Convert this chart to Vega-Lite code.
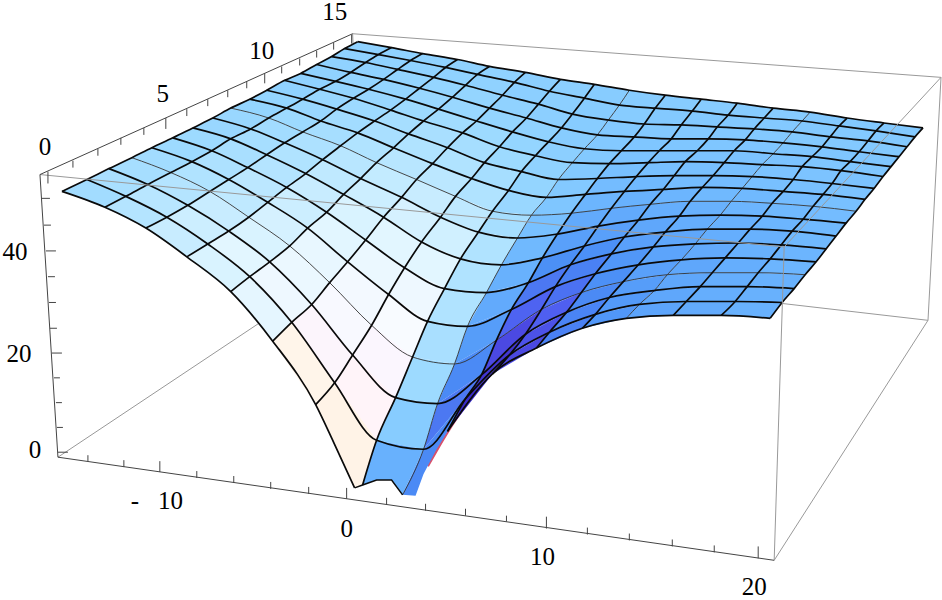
{"$schema":"https://vega.github.io/schema/vega-lite/v6.json","width":942,"height":600,"padding":0,"autosize":{"type":"fit","contains":"padding"},"background":"white","view":{"stroke":null},
"config":{"axis":{"domain":false}},
"datasets":{
"grid":[
{"g":0,"i":0,"j":0,"x":62,"y":191},{"g":1,"i":1,"j":0,"x":105,"y":207},{"g":2,"i":2,"j":0,"x":146,"y":228},{"g":3,"i":3,"j":0,"x":187,"y":257},{"g":4,"i":4,"j":0,"x":231,"y":292},{"g":5,"i":5,"j":0,"x":273,"y":342},{"g":6,"i":6,"j":0,"x":316,"y":406},{"g":7,"i":7,"j":0,"x":363,"y":487},{"g":8,"i":8,"j":0,"x":403,"y":497},{"g":9,"i":9,"j":0,"x":448,"y":433},{"g":10,"i":10,"j":0,"x":493,"y":375},{"g":11,"i":11,"j":0,"x":537,"y":349},{"g":12,"i":12,"j":0,"x":583,"y":329},{"g":13,"i":13,"j":0,"x":627,"y":319},{"g":14,"i":14,"j":0,"x":674,"y":316},{"g":15,"i":15,"j":0,"x":722,"y":316},{"g":16,"i":16,"j":0,"x":771,"y":319},
{"g":17,"i":0,"j":1,"x":87,"y":179},{"g":18,"i":1,"j":1,"x":126,"y":196},{"g":19,"i":2,"j":1,"x":167,"y":217},{"g":20,"i":3,"j":1,"x":208,"y":244},{"g":21,"i":4,"j":1,"x":250,"y":277},{"g":22,"i":5,"j":1,"x":292,"y":323},{"g":23,"i":6,"j":1,"x":335,"y":384},{"g":24,"i":7,"j":1,"x":377,"y":442},{"g":25,"i":8,"j":1,"x":424,"y":451},{"g":26,"i":9,"j":1,"x":466,"y":400},{"g":27,"i":10,"j":1,"x":510,"y":356},{"g":28,"i":11,"j":1,"x":550,"y":333},{"g":29,"i":12,"j":1,"x":596,"y":315},{"g":30,"i":13,"j":1,"x":640,"y":305},{"g":31,"i":14,"j":1,"x":687,"y":302},{"g":32,"i":15,"j":1,"x":736,"y":302},{"g":33,"i":16,"j":1,"x":783,"y":303},
{"g":34,"i":0,"j":2,"x":109,"y":168},{"g":35,"i":1,"j":2,"x":148,"y":184},{"g":36,"i":2,"j":2,"x":188,"y":205},{"g":37,"i":3,"j":2,"x":229,"y":231},{"g":38,"i":4,"j":2,"x":270,"y":262},{"g":39,"i":5,"j":2,"x":312,"y":305},{"g":40,"i":6,"j":2,"x":353,"y":356},{"g":41,"i":7,"j":2,"x":396,"y":399},{"g":42,"i":8,"j":2,"x":438,"y":405},{"g":43,"i":9,"j":2,"x":482,"y":376},{"g":44,"i":10,"j":2,"x":526,"y":335},{"g":45,"i":11,"j":2,"x":567,"y":313},{"g":46,"i":12,"j":2,"x":610,"y":298},{"g":47,"i":13,"j":2,"x":655,"y":291},{"g":48,"i":14,"j":2,"x":701,"y":287},{"g":49,"i":15,"j":2,"x":748,"y":287},{"g":50,"i":16,"j":2,"x":795,"y":289},
{"g":51,"i":0,"j":3,"x":132,"y":157},{"g":52,"i":1,"j":3,"x":171,"y":172},{"g":53,"i":2,"j":3,"x":210,"y":191},{"g":54,"i":3,"j":3,"x":249,"y":217},{"g":55,"i":4,"j":3,"x":290,"y":246},{"g":56,"i":5,"j":3,"x":330,"y":283},{"g":57,"i":6,"j":3,"x":372,"y":326},{"g":58,"i":7,"j":3,"x":413,"y":358},{"g":59,"i":8,"j":3,"x":455,"y":365},{"g":60,"i":9,"j":3,"x":497,"y":341},{"g":61,"i":10,"j":3,"x":542,"y":310},{"g":62,"i":11,"j":3,"x":582,"y":293},{"g":63,"i":12,"j":3,"x":624,"y":282},{"g":64,"i":13,"j":3,"x":668,"y":275},{"g":65,"i":14,"j":3,"x":713,"y":273},{"g":66,"i":15,"j":3,"x":759,"y":273},{"g":67,"i":16,"j":3,"x":806,"y":275},
{"g":68,"i":0,"j":4,"x":152,"y":147},{"g":69,"i":1,"j":4,"x":192,"y":161},{"g":70,"i":2,"j":4,"x":229,"y":179},{"g":71,"i":3,"j":4,"x":268,"y":202},{"g":72,"i":4,"j":4,"x":308,"y":228},{"g":73,"i":5,"j":4,"x":348,"y":262},{"g":74,"i":6,"j":4,"x":389,"y":295},{"g":75,"i":7,"j":4,"x":428,"y":322},{"g":76,"i":8,"j":4,"x":468,"y":327},{"g":77,"i":9,"j":4,"x":512,"y":310},{"g":78,"i":10,"j":4,"x":556,"y":287},{"g":79,"i":11,"j":4,"x":596,"y":274},{"g":80,"i":12,"j":4,"x":639,"y":265},{"g":81,"i":13,"j":4,"x":682,"y":260},{"g":82,"i":14,"j":4,"x":726,"y":258},{"g":83,"i":15,"j":4,"x":771,"y":259},{"g":84,"i":16,"j":4,"x":817,"y":262},
{"g":85,"i":0,"j":5,"x":173,"y":137},{"g":86,"i":1,"j":5,"x":212,"y":150},{"g":87,"i":2,"j":5,"x":248,"y":167},{"g":88,"i":3,"j":5,"x":287,"y":187},{"g":89,"i":4,"j":5,"x":327,"y":212},{"g":90,"i":5,"j":5,"x":366,"y":240},{"g":91,"i":6,"j":5,"x":405,"y":268},{"g":92,"i":7,"j":5,"x":445,"y":289},{"g":93,"i":8,"j":5,"x":487,"y":293},{"g":94,"i":9,"j":5,"x":529,"y":283},{"g":95,"i":10,"j":5,"x":571,"y":265},{"g":96,"i":11,"j":5,"x":612,"y":254},{"g":97,"i":12,"j":5,"x":654,"y":247},{"g":98,"i":13,"j":5,"x":696,"y":244},{"g":99,"i":14,"j":5,"x":739,"y":243},{"g":100,"i":15,"j":5,"x":782,"y":245},{"g":101,"i":16,"j":5,"x":827,"y":249},
{"g":102,"i":0,"j":6,"x":193,"y":127},{"g":103,"i":1,"j":6,"x":231,"y":138},{"g":104,"i":2,"j":6,"x":267,"y":154},{"g":105,"i":3,"j":6,"x":306,"y":173},{"g":106,"i":4,"j":6,"x":344,"y":194},{"g":107,"i":5,"j":6,"x":384,"y":217},{"g":108,"i":6,"j":6,"x":422,"y":242},{"g":109,"i":7,"j":6,"x":461,"y":259},{"g":110,"i":8,"j":6,"x":502,"y":265},{"g":111,"i":9,"j":6,"x":543,"y":258},{"g":112,"i":10,"j":6,"x":585,"y":246},{"g":113,"i":11,"j":6,"x":625,"y":237},{"g":114,"i":12,"j":6,"x":666,"y":232},{"g":115,"i":13,"j":6,"x":708,"y":229},{"g":116,"i":14,"j":6,"x":751,"y":229},{"g":117,"i":15,"j":6,"x":793,"y":231},{"g":118,"i":16,"j":6,"x":837,"y":236},
{"g":119,"i":0,"j":7,"x":213,"y":117},{"g":120,"i":1,"j":7,"x":251,"y":128},{"g":121,"i":2,"j":7,"x":285,"y":142},{"g":122,"i":3,"j":7,"x":323,"y":159},{"g":123,"i":4,"j":7,"x":361,"y":178},{"g":124,"i":5,"j":7,"x":402,"y":197},{"g":125,"i":6,"j":7,"x":441,"y":217},{"g":126,"i":7,"j":7,"x":479,"y":232},{"g":127,"i":8,"j":7,"x":518,"y":238},{"g":128,"i":9,"j":7,"x":558,"y":234},{"g":129,"i":10,"j":7,"x":599,"y":226},{"g":130,"i":11,"j":7,"x":639,"y":220},{"g":131,"i":12,"j":7,"x":680,"y":216},{"g":132,"i":13,"j":7,"x":721,"y":215},{"g":133,"i":14,"j":7,"x":763,"y":216},{"g":134,"i":15,"j":7,"x":804,"y":219},{"g":135,"i":16,"j":7,"x":847,"y":223},
{"g":136,"i":0,"j":8,"x":231,"y":107},{"g":137,"i":1,"j":8,"x":269,"y":117},{"g":138,"i":2,"j":8,"x":303,"y":131},{"g":139,"i":3,"j":8,"x":341,"y":145},{"g":140,"i":4,"j":8,"x":377,"y":162},{"g":141,"i":5,"j":8,"x":417,"y":179},{"g":142,"i":6,"j":8,"x":456,"y":196},{"g":143,"i":7,"j":8,"x":493,"y":211},{"g":144,"i":8,"j":8,"x":532,"y":215},{"g":145,"i":9,"j":8,"x":572,"y":213},{"g":146,"i":10,"j":8,"x":612,"y":208},{"g":147,"i":11,"j":8,"x":651,"y":204},{"g":148,"i":12,"j":8,"x":691,"y":201},{"g":149,"i":13,"j":8,"x":732,"y":201},{"g":150,"i":14,"j":8,"x":773,"y":203},{"g":151,"i":15,"j":8,"x":814,"y":206},{"g":152,"i":16,"j":8,"x":857,"y":211},
{"g":153,"i":0,"j":9,"x":250,"y":98},{"g":154,"i":1,"j":9,"x":287,"y":107},{"g":155,"i":2,"j":9,"x":321,"y":120},{"g":156,"i":3,"j":9,"x":358,"y":132},{"g":157,"i":4,"j":9,"x":394,"y":147},{"g":158,"i":5,"j":9,"x":433,"y":163},{"g":159,"i":6,"j":9,"x":472,"y":178},{"g":160,"i":7,"j":9,"x":509,"y":190},{"g":161,"i":8,"j":9,"x":547,"y":197},{"g":162,"i":9,"j":9,"x":586,"y":194},{"g":163,"i":10,"j":9,"x":625,"y":191},{"g":164,"i":11,"j":9,"x":664,"y":189},{"g":165,"i":12,"j":9,"x":703,"y":187},{"g":166,"i":13,"j":9,"x":743,"y":188},{"g":167,"i":14,"j":9,"x":784,"y":191},{"g":168,"i":15,"j":9,"x":824,"y":194},{"g":169,"i":16,"j":9,"x":866,"y":199},
{"g":170,"i":0,"j":10,"x":267,"y":89},{"g":171,"i":1,"j":10,"x":303,"y":98},{"g":172,"i":2,"j":10,"x":337,"y":108},{"g":173,"i":3,"j":10,"x":375,"y":120},{"g":174,"i":4,"j":10,"x":409,"y":133},{"g":175,"i":5,"j":10,"x":448,"y":147},{"g":176,"i":6,"j":10,"x":485,"y":162},{"g":177,"i":7,"j":10,"x":522,"y":171},{"g":178,"i":8,"j":10,"x":559,"y":179},{"g":179,"i":9,"j":10,"x":598,"y":178},{"g":180,"i":10,"j":10,"x":637,"y":176},{"g":181,"i":11,"j":10,"x":675,"y":175},{"g":182,"i":12,"j":10,"x":714,"y":175},{"g":183,"i":13,"j":10,"x":753,"y":176},{"g":184,"i":14,"j":10,"x":794,"y":179},{"g":185,"i":15,"j":10,"x":833,"y":183},{"g":186,"i":16,"j":10,"x":875,"y":188},
{"g":187,"i":0,"j":11,"x":285,"y":79},{"g":188,"i":1,"j":11,"x":320,"y":88},{"g":189,"i":2,"j":11,"x":354,"y":97},{"g":190,"i":3,"j":11,"x":391,"y":109},{"g":191,"i":4,"j":11,"x":424,"y":120},{"g":192,"i":5,"j":11,"x":463,"y":132},{"g":193,"i":6,"j":11,"x":500,"y":146},{"g":194,"i":7,"j":11,"x":536,"y":155},{"g":195,"i":8,"j":11,"x":573,"y":162},{"g":196,"i":9,"j":11,"x":610,"y":163},{"g":197,"i":10,"j":11,"x":649,"y":162},{"g":198,"i":11,"j":11,"x":686,"y":161},{"g":199,"i":12,"j":11,"x":725,"y":162},{"g":200,"i":13,"j":11,"x":763,"y":164},{"g":201,"i":14,"j":11,"x":803,"y":166},{"g":202,"i":15,"j":11,"x":842,"y":170},{"g":203,"i":16,"j":11,"x":884,"y":176},
{"g":204,"i":0,"j":12,"x":301,"y":72},{"g":205,"i":1,"j":12,"x":336,"y":80},{"g":206,"i":2,"j":12,"x":369,"y":88},{"g":207,"i":3,"j":12,"x":406,"y":98},{"g":208,"i":4,"j":12,"x":439,"y":108},{"g":209,"i":5,"j":12,"x":477,"y":120},{"g":210,"i":6,"j":12,"x":513,"y":131},{"g":211,"i":7,"j":12,"x":549,"y":141},{"g":212,"i":8,"j":12,"x":585,"y":148},{"g":213,"i":9,"j":12,"x":622,"y":150},{"g":214,"i":10,"j":12,"x":660,"y":150},{"g":215,"i":11,"j":12,"x":698,"y":150},{"g":216,"i":12,"j":12,"x":735,"y":150},{"g":217,"i":13,"j":12,"x":774,"y":153},{"g":218,"i":14,"j":12,"x":813,"y":156},{"g":219,"i":15,"j":12,"x":851,"y":161},{"g":220,"i":16,"j":12,"x":892,"y":166},
{"g":221,"i":0,"j":13,"x":317,"y":63},{"g":222,"i":1,"j":13,"x":351,"y":71},{"g":223,"i":2,"j":13,"x":384,"y":78},{"g":224,"i":3,"j":13,"x":420,"y":87},{"g":225,"i":4,"j":13,"x":453,"y":96},{"g":226,"i":5,"j":13,"x":490,"y":107},{"g":227,"i":6,"j":13,"x":527,"y":117},{"g":228,"i":7,"j":13,"x":562,"y":127},{"g":229,"i":8,"j":13,"x":598,"y":134},{"g":230,"i":9,"j":13,"x":635,"y":136},{"g":231,"i":10,"j":13,"x":672,"y":138},{"g":232,"i":11,"j":13,"x":709,"y":138},{"g":233,"i":12,"j":13,"x":746,"y":139},{"g":234,"i":13,"j":13,"x":784,"y":142},{"g":235,"i":14,"j":13,"x":823,"y":146},{"g":236,"i":15,"j":13,"x":860,"y":151},{"g":237,"i":16,"j":13,"x":900,"y":156},
{"g":238,"i":0,"j":14,"x":332,"y":55},{"g":239,"i":1,"j":14,"x":366,"y":61},{"g":240,"i":2,"j":14,"x":398,"y":68},{"g":241,"i":3,"j":14,"x":434,"y":76},{"g":242,"i":4,"j":14,"x":466,"y":84},{"g":243,"i":5,"j":14,"x":503,"y":94},{"g":244,"i":6,"j":14,"x":539,"y":103},{"g":245,"i":7,"j":14,"x":573,"y":113},{"g":246,"i":8,"j":14,"x":609,"y":119},{"g":247,"i":9,"j":14,"x":645,"y":123},{"g":248,"i":10,"j":14,"x":682,"y":124},{"g":249,"i":11,"j":14,"x":718,"y":126},{"g":250,"i":12,"j":14,"x":755,"y":128},{"g":251,"i":13,"j":14,"x":793,"y":131},{"g":252,"i":14,"j":14,"x":831,"y":136},{"g":253,"i":15,"j":14,"x":869,"y":140},{"g":254,"i":16,"j":14,"x":908,"y":146},
{"g":255,"i":0,"j":15,"x":345,"y":47},{"g":256,"i":1,"j":15,"x":379,"y":53},{"g":257,"i":2,"j":15,"x":411,"y":59},{"g":258,"i":3,"j":15,"x":446,"y":66},{"g":259,"i":4,"j":15,"x":478,"y":73},{"g":260,"i":5,"j":15,"x":515,"y":81},{"g":261,"i":6,"j":15,"x":550,"y":90},{"g":262,"i":7,"j":15,"x":585,"y":97},{"g":263,"i":8,"j":15,"x":620,"y":104},{"g":264,"i":9,"j":15,"x":656,"y":107},{"g":265,"i":10,"j":15,"x":693,"y":110},{"g":266,"i":11,"j":15,"x":729,"y":114},{"g":267,"i":12,"j":15,"x":765,"y":117},{"g":268,"i":13,"j":15,"x":803,"y":120},{"g":269,"i":14,"j":15,"x":840,"y":125},{"g":270,"i":15,"j":15,"x":877,"y":130},{"g":271,"i":16,"j":15,"x":916,"y":136},
{"g":272,"i":0,"j":16,"x":358,"y":40},{"g":273,"i":1,"j":16,"x":392,"y":46},{"g":274,"i":2,"j":16,"x":423,"y":52},{"g":275,"i":3,"j":16,"x":458,"y":58},{"g":276,"i":4,"j":16,"x":490,"y":65},{"g":277,"i":5,"j":16,"x":526,"y":71},{"g":278,"i":6,"j":16,"x":561,"y":78},{"g":279,"i":7,"j":16,"x":595,"y":83},{"g":280,"i":8,"j":16,"x":630,"y":89},{"g":281,"i":9,"j":16,"x":666,"y":94},{"g":282,"i":10,"j":16,"x":702,"y":98},{"g":283,"i":11,"j":16,"x":738,"y":102},{"g":284,"i":12,"j":16,"x":774,"y":107},{"g":285,"i":13,"j":16,"x":811,"y":111},{"g":286,"i":14,"j":16,"x":848,"y":117},{"g":287,"i":15,"j":16,"x":885,"y":122},{"g":288,"i":16,"j":16,"x":924,"y":127},
{"g":289,"i":-1,"j":-1,"x":355,"y":490},{"g":290,"i":-1,"j":-1,"x":377,"y":482},{"g":291,"i":-1,"j":-1,"x":392,"y":482},{"g":292,"i":-1,"j":-1,"x":416,"y":498},{"g":293,"i":-1,"j":-1,"x":424,"y":476},{"g":294,"i":-1,"j":-1,"x":436,"y":453},{"g":295,"i":-1,"j":-1,"x":334,"y":444}],
"patches":[
{"p":255,"v":50,"g":[255,256,273,272]},{"p":256,"v":50,"g":[256,257,274,273]},{"p":257,"v":50,"g":[257,258,275,274]},{"p":258,"v":50,"g":[258,259,276,275]},{"p":259,"v":50,"g":[259,260,277,276]},{"p":260,"v":51,"g":[260,261,278,277]},{"p":261,"v":51,"g":[261,262,279,278]},{"p":262,"v":52,"g":[262,263,280,279]},{"p":263,"v":52,"g":[263,264,281,280]},{"p":264,"v":52,"g":[264,265,282,281]},{"p":265,"v":52,"g":[265,266,283,282]},{"p":266,"v":52,"g":[266,267,284,283]},{"p":267,"v":52,"g":[267,268,285,284]},{"p":268,"v":53,"g":[268,269,286,285]},{"p":269,"v":53,"g":[269,270,287,286]},{"p":270,"v":53,"g":[270,271,288,287]},
{"p":238,"v":50,"g":[238,239,256,255]},{"p":239,"v":50,"g":[239,240,257,256]},{"p":240,"v":50,"g":[240,241,258,257]},{"p":241,"v":50,"g":[241,242,259,258]},{"p":242,"v":50,"g":[242,243,260,259]},{"p":243,"v":51,"g":[243,244,261,260]},{"p":244,"v":51,"g":[244,245,262,261]},{"p":245,"v":52,"g":[245,246,263,262]},{"p":246,"v":52,"g":[246,247,264,263]},{"p":247,"v":53,"g":[247,248,265,264]},{"p":248,"v":53,"g":[248,249,266,265]},{"p":249,"v":53,"g":[249,250,267,266]},{"p":250,"v":53,"g":[250,251,268,267]},{"p":251,"v":53,"g":[251,252,269,268]},{"p":252,"v":53,"g":[252,253,270,269]},{"p":253,"v":53,"g":[253,254,271,270]},
{"p":221,"v":50,"g":[221,222,239,238]},{"p":222,"v":50,"g":[222,223,240,239]},{"p":223,"v":49,"g":[223,224,241,240]},{"p":224,"v":49,"g":[224,225,242,241]},{"p":225,"v":49,"g":[225,226,243,242]},{"p":226,"v":50,"g":[226,227,244,243]},{"p":227,"v":51,"g":[227,228,245,244]},{"p":228,"v":52,"g":[228,229,246,245]},{"p":229,"v":53,"g":[229,230,247,246]},{"p":230,"v":53,"g":[230,231,248,247]},{"p":231,"v":53,"g":[231,232,249,248]},{"p":232,"v":53,"g":[232,233,250,249]},{"p":233,"v":53,"g":[233,234,251,250]},{"p":234,"v":53,"g":[234,235,252,251]},{"p":235,"v":53,"g":[235,236,253,252]},{"p":236,"v":53,"g":[236,237,254,253]},
{"p":204,"v":50,"g":[204,205,222,221]},{"p":205,"v":49,"g":[205,206,223,222]},{"p":206,"v":49,"g":[206,207,224,223]},{"p":207,"v":48,"g":[207,208,225,224]},{"p":208,"v":48,"g":[208,209,226,225]},{"p":209,"v":49,"g":[209,210,227,226]},{"p":210,"v":50,"g":[210,211,228,227]},{"p":211,"v":52,"g":[211,212,229,228]},{"p":212,"v":53,"g":[212,213,230,229]},{"p":213,"v":54,"g":[213,214,231,230]},{"p":214,"v":54,"g":[214,215,232,231]},{"p":215,"v":54,"g":[215,216,233,232]},{"p":216,"v":54,"g":[216,217,234,233]},{"p":217,"v":54,"g":[217,218,235,234]},{"p":218,"v":54,"g":[218,219,236,235]},{"p":219,"v":54,"g":[219,220,237,236]},
{"p":187,"v":50,"g":[187,188,205,204]},{"p":188,"v":49,"g":[188,189,206,205]},{"p":189,"v":48,"g":[189,190,207,206]},{"p":190,"v":47,"g":[190,191,208,207]},{"p":191,"v":46,"g":[191,192,209,208]},{"p":192,"v":47,"g":[192,193,210,209]},{"p":193,"v":49,"g":[193,194,211,210]},{"p":194,"v":51,"g":[194,195,212,211]},{"p":195,"v":53,"g":[195,196,213,212]},{"p":196,"v":55,"g":[196,197,214,213]},{"p":197,"v":55,"g":[197,198,215,214]},{"p":198,"v":55,"g":[198,199,216,215]},{"p":199,"v":55,"g":[199,200,217,216]},{"p":200,"v":55,"g":[200,201,218,217]},{"p":201,"v":54,"g":[201,202,219,218]},{"p":202,"v":54,"g":[202,203,220,219]},
{"p":170,"v":50,"g":[170,171,188,187]},{"p":171,"v":48,"g":[171,172,189,188]},{"p":172,"v":47,"g":[172,173,190,189]},{"p":173,"v":45,"g":[173,174,191,190]},{"p":174,"v":44,"g":[174,175,192,191]},{"p":175,"v":45,"g":[175,176,193,192]},{"p":176,"v":47,"g":[176,177,194,193]},{"p":177,"v":50,"g":[177,178,195,194]},{"p":178,"v":53,"g":[178,179,196,195]},{"p":179,"v":56,"g":[179,180,197,196]},{"p":180,"v":56,"g":[180,181,198,197]},{"p":181,"v":56,"g":[181,182,199,198]},{"p":182,"v":56,"g":[182,183,200,199]},{"p":183,"v":55,"g":[183,184,201,200]},{"p":184,"v":55,"g":[184,185,202,201]},{"p":185,"v":55,"g":[185,186,203,202]},
{"p":153,"v":49,"g":[153,154,171,170]},{"p":154,"v":48,"g":[154,155,172,171]},{"p":155,"v":46,"g":[155,156,173,172]},{"p":156,"v":44,"g":[156,157,174,173]},{"p":157,"v":42,"g":[157,158,175,174]},{"p":158,"v":42,"g":[158,159,176,175]},{"p":159,"v":45,"g":[159,160,177,176]},{"p":160,"v":49,"g":[160,161,178,177]},{"p":161,"v":53,"g":[161,162,179,178]},{"p":162,"v":57,"g":[162,163,180,179]},{"p":163,"v":58,"g":[163,164,181,180]},{"p":164,"v":57,"g":[164,165,182,181]},{"p":165,"v":57,"g":[165,166,183,182]},{"p":166,"v":56,"g":[166,167,184,183]},{"p":167,"v":56,"g":[167,168,185,184]},{"p":168,"v":55,"g":[168,169,186,185]},
{"p":136,"v":49,"g":[136,137,154,153]},{"p":137,"v":47,"g":[137,138,155,154]},{"p":138,"v":45,"g":[138,139,156,155]},{"p":139,"v":42,"g":[139,140,157,156]},{"p":140,"v":40,"g":[140,141,158,157]},{"p":141,"v":39,"g":[141,142,159,158]},{"p":142,"v":42,"g":[142,143,160,159]},{"p":143,"v":48,"g":[143,144,161,160]},{"p":144,"v":54,"g":[144,145,162,161]},{"p":145,"v":59,"g":[145,146,163,162]},{"p":146,"v":60,"g":[146,147,164,163]},{"p":147,"v":59,"g":[147,148,165,164]},{"p":148,"v":58,"g":[148,149,166,165]},{"p":149,"v":58,"g":[149,150,167,166]},{"p":150,"v":57,"g":[150,151,168,167]},{"p":151,"v":56,"g":[151,152,169,168]},
{"p":119,"v":48,"g":[119,120,137,136]},{"p":120,"v":46,"g":[120,121,138,137]},{"p":121,"v":43,"g":[121,122,139,138]},{"p":122,"v":40,"g":[122,123,140,139]},{"p":123,"v":37,"g":[123,124,141,140]},{"p":124,"v":36,"g":[124,125,142,141]},{"p":125,"v":38,"g":[125,126,143,142]},{"p":126,"v":45,"g":[126,127,144,143]},{"p":127,"v":56,"g":[127,128,145,144]},{"p":128,"v":62,"g":[128,129,146,145]},{"p":129,"v":62,"g":[129,130,147,146]},{"p":130,"v":61,"g":[130,131,148,147]},{"p":131,"v":60,"g":[131,132,149,148]},{"p":132,"v":59,"g":[132,133,150,149]},{"p":133,"v":58,"g":[133,134,151,150]},{"p":134,"v":57,"g":[134,135,152,151]},
{"p":102,"v":48,"g":[102,103,120,119]},{"p":103,"v":45,"g":[103,104,121,120]},{"p":104,"v":42,"g":[104,105,122,121]},{"p":105,"v":38,"g":[105,106,123,122]},{"p":106,"v":35,"g":[106,107,124,123]},{"p":107,"v":33,"g":[107,108,125,124]},{"p":108,"v":34,"g":[108,109,126,125]},{"p":109,"v":42,"g":[109,110,127,126]},{"p":110,"v":58,"g":[110,111,128,127]},{"p":111,"v":65,"g":[111,112,129,128]},{"p":112,"v":65,"g":[112,113,130,129]},{"p":113,"v":63,"g":[113,114,131,130]},{"p":114,"v":61,"g":[114,115,132,131]},{"p":115,"v":60,"g":[115,116,133,132]},{"p":116,"v":59,"g":[116,117,134,133]},{"p":117,"v":58,"g":[117,118,135,134]},
{"p":85,"v":47,"g":[85,86,103,102]},{"p":86,"v":44,"g":[86,87,104,103]},{"p":87,"v":41,"g":[87,88,105,104]},{"p":88,"v":36,"g":[88,89,106,105]},{"p":89,"v":32,"g":[89,90,107,106]},{"p":90,"v":30,"g":[90,91,108,107]},{"p":91,"v":30,"g":[91,92,109,108]},{"p":92,"v":42,"g":[92,93,110,109]},{"p":93,"v":60,"g":[93,94,111,110]},{"p":94,"v":70,"g":[94,95,112,111]},{"p":95,"v":70,"g":[95,96,113,112]},{"p":96,"v":65,"g":[96,97,114,113]},{"p":97,"v":63,"g":[97,98,115,114]},{"p":98,"v":61,"g":[98,99,116,115]},{"p":99,"v":60,"g":[99,100,117,116]},{"p":100,"v":58,"g":[100,101,118,117]},
{"p":68,"v":47,"g":[68,69,86,85]},{"p":69,"v":43,"g":[69,70,87,86]},{"p":70,"v":39,"g":[70,71,88,87]},{"p":71,"v":35,"g":[71,72,89,88]},{"p":72,"v":30,"g":[72,73,90,89]},{"p":73,"v":27,"g":[73,74,91,90]},{"p":74,"v":26,"g":[74,75,92,91]},{"p":75,"v":42,"g":[75,76,93,92]},{"p":76,"v":62,"g":[76,77,94,93]},{"p":77,"v":78,"g":[77,78,95,94]},{"p":78,"v":75,"g":[78,79,96,95]},{"p":79,"v":68,"g":[79,80,97,96]},{"p":80,"v":64,"g":[80,81,98,97]},{"p":81,"v":62,"g":[81,82,99,98]},{"p":82,"v":60,"g":[82,83,100,99]},{"p":83,"v":59,"g":[83,84,101,100]},
{"p":51,"v":46,"g":[51,52,69,68]},{"p":52,"v":42,"g":[52,53,70,69]},{"p":53,"v":38,"g":[53,54,71,70]},{"p":54,"v":33,"g":[54,55,72,71]},{"p":55,"v":28,"g":[55,56,73,72]},{"p":56,"v":24,"g":[56,57,74,73]},{"p":57,"v":22,"g":[57,58,75,74]},{"p":58,"v":44,"g":[58,59,76,75]},{"p":59,"v":66,"g":[59,60,77,76]},{"p":60,"v":84,"g":[60,61,78,77]},{"p":61,"v":80,"g":[61,62,79,78]},{"p":62,"v":70,"g":[62,63,80,79]},{"p":63,"v":65,"g":[63,64,81,80]},{"p":64,"v":63,"g":[64,65,82,81]},{"p":65,"v":61,"g":[65,66,83,82]},{"p":66,"v":59,"g":[66,67,84,83]},
{"p":34,"v":45,"g":[34,35,52,51]},{"p":35,"v":41,"g":[35,36,53,52]},{"p":36,"v":36,"g":[36,37,54,53]},{"p":37,"v":32,"g":[37,38,55,54]},{"p":38,"v":27,"g":[38,39,56,55]},{"p":39,"v":20,"g":[39,40,57,56]},{"p":40,"v":17,"g":[40,41,58,57]},{"p":41,"v":47,"g":[41,42,59,58]},{"p":42,"v":72,"g":[42,43,60,59]},{"p":43,"v":90,"g":[43,44,61,60]},{"p":44,"v":85,"g":[44,45,62,61]},{"p":45,"v":72,"g":[45,46,63,62]},{"p":46,"v":66,"g":[46,47,64,63]},{"p":47,"v":63,"g":[47,48,65,64]},{"p":48,"v":61,"g":[48,49,66,65]},{"p":49,"v":60,"g":[49,50,67,66]},
{"p":17,"v":44,"g":[17,18,35,34]},{"p":18,"v":40,"g":[18,19,36,35]},{"p":19,"v":35,"g":[19,20,37,36]},{"p":20,"v":30,"g":[20,21,38,37]},{"p":21,"v":26,"g":[21,22,39,38]},{"p":22,"v":16,"g":[22,23,40,39]},{"p":23,"v":14,"g":[23,24,41,40]},{"p":24,"v":52,"g":[24,25,42,41]},{"p":25,"v":78,"g":[25,26,43,42]},{"p":26,"v":96,"g":[26,27,44,43]},{"p":27,"v":88,"g":[27,28,45,44]},{"p":28,"v":74,"g":[28,29,46,45]},{"p":29,"v":67,"g":[29,30,47,46]},{"p":30,"v":63,"g":[30,31,48,47]},{"p":31,"v":61,"g":[31,32,49,48]},{"p":32,"v":60,"g":[32,33,50,49]},
{"p":0,"v":46,"g":[0,1,18,17]},{"p":1,"v":41,"g":[1,2,19,18]},{"p":2,"v":36,"g":[2,3,20,19]},{"p":3,"v":32,"g":[3,4,21,20]},{"p":4,"v":29,"g":[4,5,22,21]},{"p":5,"v":8,"g":[5,6,23,22]},{"p":6,"v":6,"g":[6,295,289,7,24,23]},{"p":7,"v":60,"g":[7,290,291,8,25,24]},{"p":8,"v":72,"g":[8,292,293,294,9,26,25]},{"p":9,"v":100,"g":[9,10,27,26]},{"p":10,"v":90,"g":[10,11,28,27]},{"p":11,"v":75,"g":[11,12,29,28]},{"p":12,"v":68,"g":[12,13,30,29]},{"p":13,"v":64,"g":[13,14,31,30]},{"p":14,"v":62,"g":[14,15,32,31]},{"p":15,"v":60,"g":[15,16,33,32]}],
"edge":[{"k":"a","g":[0,1,2,3,4,5,6,295,289]},{"k":"b","g":[9,10,11,12,13,14,15,16]}],
"notch":[{"k":"c","g":[289,7,290,291,8]}],
"box":[
{"s":"EK","x":58,"y":459,"x2":362,"y2":255},{"s":"KH","x":362,"y":255,"x2":929,"y2":321},{"s":"KB","x":362,"y":255,"x2":353,"y2":32}],
"front":[
{"s":"AD","x":40,"y":174,"x2":785,"y2":247},{"s":"DC","x":785,"y":247,"x2":942,"y2":76},{"s":"DG","x":785,"y":247,"x2":775,"y2":563},{"s":"BC","x":353,"y":32,"x2":942,"y2":76},{"s":"CH","x":942,"y":76,"x2":929,"y2":321},{"s":"GH","x":775,"y":563,"x2":929,"y2":321}],
"axes":[
{"s":"AB","x":40,"y":174,"x2":353,"y2":32},{"s":"AE","x":40,"y":174,"x2":58,"y2":459},{"s":"EG","x":58,"y":459,"x2":775,"y2":563},
{"s":"t0","x":48,"y":171,"x2":48,"y2":183},{"s":"t1","x":73,"y":160,"x2":73,"y2":167},{"s":"t2","x":98,"y":148,"x2":98,"y2":155},{"s":"t3","x":121,"y":137,"x2":121,"y2":144},{"s":"t4","x":144,"y":127,"x2":144,"y2":134},{"s":"t5","x":166,"y":117,"x2":166,"y2":128},{"s":"t6","x":187,"y":108,"x2":187,"y2":115},{"s":"t7","x":208,"y":98,"x2":208,"y2":105},{"s":"t8","x":228,"y":89,"x2":228,"y2":96},{"s":"t9","x":247,"y":80,"x2":247,"y2":87},{"s":"t10","x":265,"y":72,"x2":265,"y2":82},{"s":"t11","x":282,"y":65,"x2":282,"y2":72},{"s":"t12","x":300,"y":57,"x2":300,"y2":64},{"s":"t13","x":317,"y":49,"x2":317,"y2":56},{"s":"t14","x":334,"y":41,"x2":334,"y2":48},{"s":"t15","x":352,"y":33,"x2":352,"y2":42},
{"s":"z0","x":58,"y":454,"x2":68,"y2":454},{"s":"z1","x":57,"y":429,"x2":63,"y2":429},{"s":"z2","x":56,"y":404,"x2":62,"y2":404},{"s":"z3","x":54,"y":379,"x2":60,"y2":379},{"s":"z4","x":52,"y":354,"x2":62,"y2":354},{"s":"z5","x":50,"y":329,"x2":57,"y2":329},{"s":"z6","x":49,"y":303,"x2":56,"y2":303},{"s":"z7","x":48,"y":277,"x2":55,"y2":277},{"s":"z8","x":46,"y":251,"x2":56,"y2":251},{"s":"z9","x":44,"y":225,"x2":51,"y2":225},{"s":"z10","x":42,"y":198,"x2":50,"y2":198},
{"s":"b1","x":88,"y":463,"x2":88,"y2":457},{"s":"b2","x":124,"y":469,"x2":124,"y2":462},{"s":"b3","x":160,"y":474,"x2":160,"y2":463},{"s":"b4","x":197,"y":480,"x2":197,"y2":473},{"s":"b5","x":234,"y":485,"x2":234,"y2":478},{"s":"b6","x":271,"y":491,"x2":271,"y2":484},{"s":"b7","x":309,"y":496,"x2":309,"y2":489},{"s":"b8","x":347,"y":501,"x2":347,"y2":490},{"s":"b9","x":387,"y":507,"x2":387,"y2":500},{"s":"b10","x":426,"y":513,"x2":426,"y2":506},{"s":"b11","x":466,"y":518,"x2":466,"y2":511},{"s":"b12","x":507,"y":524,"x2":507,"y2":518},{"s":"b13","x":547,"y":531,"x2":547,"y2":519},{"s":"b14","x":588,"y":537,"x2":588,"y2":530},{"s":"b15","x":630,"y":543,"x2":630,"y2":536},{"s":"b16","x":673,"y":549,"x2":673,"y2":542},{"s":"b17","x":715,"y":555,"x2":715,"y2":548},{"s":"b18","x":759,"y":561,"x2":759,"y2":549}],
"labels":[{"t":"0","x":45,"y":146},{"t":"5","x":163,"y":93},{"t":"10","x":262,"y":49},{"t":"15","x":335,"y":10},{"t":"40","x":15,"y":252},{"t":"20","x":19,"y":355},{"t":"0","x":35,"y":452},{"t":"-\u00a0\u00a0\u00a010","x":157,"y":503},{"t":"0","x":347,"y":531},{"t":"10","x":543,"y":560},{"t":"20","x":755,"y":590}],
"red":[{"o":0,"x":428,"y":468},{"o":1,"x":447,"y":435},{"o":2,"x":458,"y":418},{"o":3,"x":472,"y":398}]
},
"encoding":{"x":{"field":"x","type":"quantitative","scale":{"domain":[0,942],"nice":false,"zero":false},"axis":null},"y":{"field":"y","type":"quantitative","scale":{"domain":[600,0],"nice":false,"zero":false},"axis":null}},
"layer":[
{"data":{"name":"box"},"mark":{"type":"rule","color":"#999999","strokeWidth":1},"encoding":{"x2":{"field":"x2"},"y2":{"field":"y2"},"detail":{"field":"s"}}},
{"data":{"name":"red"},"mark":{"type":"line","color":"#d8506a","strokeWidth":3,"interpolate":"monotone"},"encoding":{"order":{"field":"o"}}},
{"data":{"name":"patches"},"transform":[{"flatten":["g"]},{"lookup":"g","from":{"data":{"name":"grid"},"key":"g","fields":["x","y"]}}],"mark":{"type":"line","order":null,"strokeWidth":0},"encoding":{"detail":{"field":"p"},"fill":{"field":"v","type":"quantitative","legend":null,"scale":{"domain":[0,10,15,22,30,38,46,50,56,62,70,78,85,92,100],"range":["#fff0dc","#fff6ee","#fdf4fb","#f8fbff","#e2f6ff","#bfe9ff","#a2dcff","#90d2ff","#78c0ff","#62aafc","#4c90f6","#4c78f2","#4f5ff0","#4a40dc","#3a2cc8"]}}}},
{"data":{"name":"grid"},"transform":[{"filter":"datum.j==3||datum.j==8"}],"mark":{"type":"line","color":"#333333","strokeWidth":0.9,"interpolate":"monotone"},"encoding":{"detail":{"field":"j"},"order":{"field":"i"}}},
{"data":{"name":"grid"},"transform":[{"filter":"datum.i==8||datum.i==13"}],"mark":{"type":"line","color":"#333333","strokeWidth":0.9,"interpolate":"monotone"},"encoding":{"detail":{"field":"i"},"order":{"field":"j"}}},
{"data":{"name":"grid"},"transform":[{"filter":"datum.j>=1&&datum.j!=3&&datum.j!=8"}],"mark":{"type":"line","color":"#0a0a0a","strokeWidth":1.7,"interpolate":"monotone"},"encoding":{"detail":{"field":"j"},"order":{"field":"i"}}},
{"data":{"name":"grid"},"transform":[{"filter":"datum.i>=0&&datum.i!=8&&datum.i!=13"}],"mark":{"type":"line","color":"#0a0a0a","strokeWidth":1.7,"interpolate":"monotone"},"encoding":{"detail":{"field":"i"},"order":{"field":"j"}}},
{"data":{"name":"edge"},"transform":[{"flatten":["g"]},{"lookup":"g","from":{"data":{"name":"grid"},"key":"g","fields":["x","y"]}}],"mark":{"type":"line","order":null,"color":"#0a0a0a","strokeWidth":1.7,"interpolate":"monotone"},"encoding":{"detail":{"field":"k"}}},
{"data":{"name":"notch"},"transform":[{"flatten":["g"]},{"lookup":"g","from":{"data":{"name":"grid"},"key":"g","fields":["x","y"]}}],"mark":{"type":"line","order":null,"color":"#0a0a0a","strokeWidth":1.5},"encoding":{"detail":{"field":"k"}}},
{"data":{"name":"front"},"mark":{"type":"rule","color":"#999999","strokeWidth":1},"encoding":{"x2":{"field":"x2"},"y2":{"field":"y2"},"detail":{"field":"s"}}},
{"data":{"name":"axes"},"mark":{"type":"rule","color":"#444444","strokeWidth":1},"encoding":{"x2":{"field":"x2"},"y2":{"field":"y2"},"detail":{"field":"s"}}},
{"data":{"name":"labels"},"mark":{"type":"text","font":"Liberation Serif","fontSize":25,"color":"#000000","align":"center","baseline":"middle"},"encoding":{"text":{"field":"t"}}}
]}
